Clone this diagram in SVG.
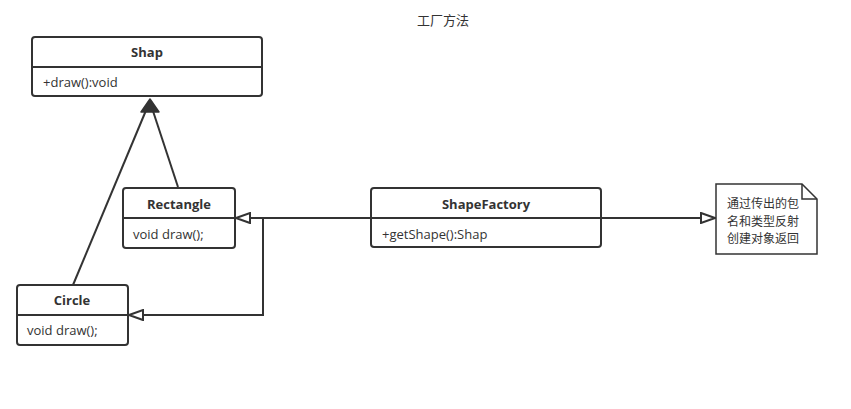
<svg xmlns="http://www.w3.org/2000/svg" width="851" height="409" viewBox="0 0 851 409">
<defs>
<style>
.box{fill:#fff;stroke:#333;stroke-width:2}
.div{stroke:#333;stroke-width:2}
.t{font-family:"Open Sans","Noto Sans","Noto Sans CJK SC",sans-serif;font-size:13px;fill:#333}
.b{font-weight:bold;text-anchor:middle}
.cn{font-family:"Noto Sans CJK SC",sans-serif;font-size:13px;fill:#333}
.nt{font-family:"Noto Sans CJK SC",sans-serif;font-size:12px;fill:#333}
.ln{fill:none;stroke:#333;stroke-width:2}
</style>
<marker id="open" viewBox="0 0 16 12" refX="15" refY="6" markerWidth="16" markerHeight="12" markerUnits="userSpaceOnUse" orient="auto">
<path d="M1,1 L15,6 L1,11 Z" fill="#fff" stroke="#333" stroke-width="2"/>
</marker>
</defs>
<rect width="851" height="409" fill="#fff"/>
<text class="cn" x="443" y="25" text-anchor="middle">工厂方法</text>
<g id="connectors">
<polyline class="ln" points="371,218 236,218" marker-end="url(#open)"/>
<polyline class="ln" points="263,218 263,315 129,315" marker-end="url(#open)"/>
<line class="ln" x1="601" y1="218" x2="715" y2="218" marker-end="url(#open)"/>
<line class="ln" x1="178" y1="187" x2="152" y2="108"/>
<line class="ln" x1="73" y1="285" x2="147" y2="108"/>
<path d="M150,99 L159,112 L141,112 Z" fill="#333" stroke="#333" stroke-width="1.5" stroke-linejoin="round"/>
</g>
<g id="shap">
<rect class="box" x="32" y="37" width="230" height="59" rx="3"/>
<line class="div" x1="32" y1="67" x2="262" y2="67"/>
<text class="t b" x="147" y="57">Shap</text>
<text class="t" x="43" y="87">+draw():void</text>
</g>
<g id="rectangle">
<rect class="box" x="123" y="188" width="112" height="60" rx="3"/>
<line class="div" x1="123" y1="218" x2="235" y2="218"/>
<text class="t b" x="179" y="209">Rectangle</text>
<text class="t" x="133" y="239">void draw();</text>
</g>
<g id="circle">
<rect class="box" x="17" y="285" width="111" height="60" rx="3"/>
<line class="div" x1="17" y1="315" x2="128" y2="315"/>
<text class="t b" x="72" y="305">Circle</text>
<text class="t" x="27" y="335">void draw();</text>
</g>
<g id="shapefactory">
<rect class="box" x="371" y="188" width="230" height="59" rx="3"/>
<line class="div" x1="371" y1="218" x2="601" y2="218"/>
<text class="t b" x="486" y="209">ShapeFactory</text>
<text class="t" x="382" y="239">+getShape():Shap</text>
</g>
<g id="note">
<path d="M716,184 L802,184 L817,199 L817,254 L716,254 Z" fill="#fff" stroke="#333" stroke-width="1.5"/>
<path d="M802,184 L802,199 L817,199" fill="none" stroke="#333" stroke-width="1.5"/>
<text class="nt"><tspan x="727" y="208">通过传出的包</tspan><tspan x="727" y="225.5">名和类型反射</tspan><tspan x="727" y="243">创建对象返回</tspan></text>
</g>
</svg>
